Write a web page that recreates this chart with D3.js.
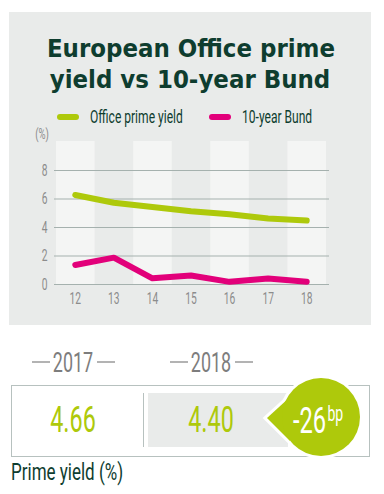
<!DOCTYPE html>
<html lang="en">
<head>
  <meta charset="UTF-8">
  <style>
    html, body { margin: 0; padding: 0; background: #fff; }
    svg { display: block; }
  </style>
  <script src="https://d3js.org/d3.v7.min.js"></script>
</head>
<body>
  <svg id="chart" width="384" height="494"></svg>

  <script>
    // data
    const years = ["12", "13", "14", "15", "16", "17", "18"];
    const officeYield = [6.25, 5.7, 5.4, 5.1, 4.9, 4.6, 4.45];
    const bundYield = [1.33, 1.85, 0.4, 0.6, 0.15, 0.38, 0.15];
    const yTicks = [0, 2, 4, 6, 8];
    const seriesNames = ["Office prime yield", "10-year Bund"];
    const summaryYears = ["2017", "2018"];
    const summaryValues = ["4.66", "4.40"];
    const changeBp = "-26";

    const green = "#aec90b";
    const pink = "#e2007a";
    const dark = "#0e3d2f";
    const grey = "#8c8c8c";
    const SQ = 0.64; // horizontal squeeze to fake a condensed face

    const svg = d3.select("#chart");

    // condensed-looking text: Roboto squeezed sideways
    function narrowText(parent, x, y, str, size, fill, anchor, sq) {
      const g = parent.append("g").attr("transform", `translate(${x},${y}) scale(${sq || SQ},1)`);
      return g.append("text")
        .attr("font-family", "Roboto, sans-serif")
        .attr("font-size", size)
        .attr("fill", fill)
        .attr("text-anchor", anchor || "start")
        .text(str);
    }

    // grey panel
    svg.append("rect")
      .attr("x", 9).attr("y", 12)
      .attr("width", 362).attr("height", 313)
      .attr("fill", "#e9ebea");

    // title
    const title = svg.append("text")
      .attr("text-anchor", "middle")
      .attr("fill", dark)
      .attr("font-family", "'DejaVu Sans Condensed', 'DejaVu Sans', sans-serif")
      .attr("font-weight", "bold")
      .attr("font-size", 25.5);
    title.append("tspan").attr("x", 191).attr("y", 57).text("European Office prime");
    title.append("tspan").attr("x", 190).attr("y", 88).text("yield vs 10-year Bund");

    // scales
    const x = d3.scaleBand().domain(years).range([56, 326]);
    const y = d3.scaleLinear().domain([0, 8]).range([284, 170]);

    // alternating light columns
    svg.append("g").selectAll("rect")
      .data(years.filter((d, i) => i % 2 === 0))
      .join("rect")
      .attr("x", d => x(d))
      .attr("y", 141)
      .attr("width", x.bandwidth())
      .attr("height", 284 - 141)
      .attr("fill", "#f4f5f4");

    // gridlines + y labels
    const yAxis = svg.append("g")
      .attr("transform", "translate(54,0)")
      .call(d3.axisLeft(y).tickValues(yTicks).tickSize(-275).tickPadding(10).tickFormat(d3.format("d")));
    yAxis.select(".domain").remove();
    yAxis.selectAll(".tick line").attr("stroke", "#a5b1ae").attr("stroke-width", 1);
    yAxis.selectAll(".tick text")
      .attr("font-family", "Roboto, sans-serif")
      .attr("fill", grey)
      .attr("font-size", 16)
      .attr("transform", `scale(${SQ},1)`);

    // x labels
    const xAxis = svg.append("g")
      .attr("transform", "translate(0,284)")
      .call(d3.axisBottom(x).tickSize(0).tickPadding(9));
    xAxis.select(".domain").remove();
    xAxis.selectAll(".tick text")
      .attr("font-family", "Roboto, sans-serif")
      .attr("fill", grey)
      .attr("font-size", 16)
      .attr("transform", `scale(${SQ},1)`);

    narrowText(svg, 42, 139, "(%)", 15, grey, "middle");

    // lines
    const line = d3.line()
      .x((d, i) => x(years[i]) + x.bandwidth() / 2)
      .y(d => y(d));

    [[officeYield, green], [bundYield, pink]].forEach(([vals, col]) => {
      svg.append("path")
        .attr("d", line(vals))
        .attr("fill", "none")
        .attr("stroke", col)
        .attr("stroke-width", 6)
        .attr("stroke-linecap", "round")
        .attr("stroke-linejoin", "round");
    });

    // legend
    [[57, 90, green], [209, 242, pink]].forEach(([lx, tx, col], i) => {
      svg.append("line")
        .attr("x1", lx + 3).attr("x2", lx + 19)
        .attr("y1", 117).attr("y2", 117)
        .attr("stroke", col).attr("stroke-width", 6)
        .attr("stroke-linecap", "round");
      narrowText(svg, tx, 122.5, seriesNames[i], 18, dark, "start", 0.67);
    });

    // summary headers
    [73, 211].forEach((cx, i) => {
      narrowText(svg, cx, 372, summaryYears[i], 28, "#7d7d7d", "middle");
      [[cx - 41, cx - 23], [cx + 24, cx + 42]].forEach(([a, b]) => {
        svg.append("line")
          .attr("x1", a).attr("x2", b)
          .attr("y1", 362).attr("y2", 362)
          .attr("stroke", "#8a8a8a").attr("stroke-width", 1.3);
      });
    });

    // box
    svg.append("rect")
      .attr("x", 11.5).attr("y", 385.5)
      .attr("width", 358).attr("height", 71)
      .attr("fill", "#fff")
      .attr("stroke", "#b7c1bf");
    svg.append("line")
      .attr("x1", 143.5).attr("x2", 143.5)
      .attr("y1", 393).attr("y2", 447)
      .attr("stroke", "#b7c1bf");
    svg.append("rect")
      .attr("x", 148).attr("y", 393)
      .attr("width", 140).attr("height", 54)
      .attr("fill", "#e9ebea");

    // values
    [73, 211].forEach((cx, i) => {
      narrowText(svg, cx, 432, summaryValues[i], 36.5, green, "middle");
    });

    // bubble
    const cx = 321, cy = 417, r = 39;
    const bubble = d3.path();
    bubble.moveTo(267, 418);
    bubble.lineTo(290, 397);
    bubble.lineTo(290, 441);
    bubble.closePath();
    svg.append("path").attr("d", bubble.toString())
      .attr("fill", green).attr("stroke", "#fff").attr("stroke-width", 6)
      .attr("stroke-linejoin", "miter");
    svg.append("circle")
      .attr("cx", cx).attr("cy", cy).attr("r", r + 3)
      .attr("fill", "#fff");
    svg.append("path").attr("d", bubble.toString()).attr("fill", green);
    svg.append("circle")
      .attr("cx", cx).attr("cy", cy).attr("r", r)
      .attr("fill", green);

    const change = narrowText(svg, 293, 433, "", 37, "#fff");
    change.append("tspan").text(changeBp);
    change.append("tspan").attr("font-size", 22).attr("dx", 2).attr("dy", -12).text("bp");

    narrowText(svg, 11, 480, "Prime yield (%)", 23, dark, "start", 0.74);
  </script>
</body>
</html>
